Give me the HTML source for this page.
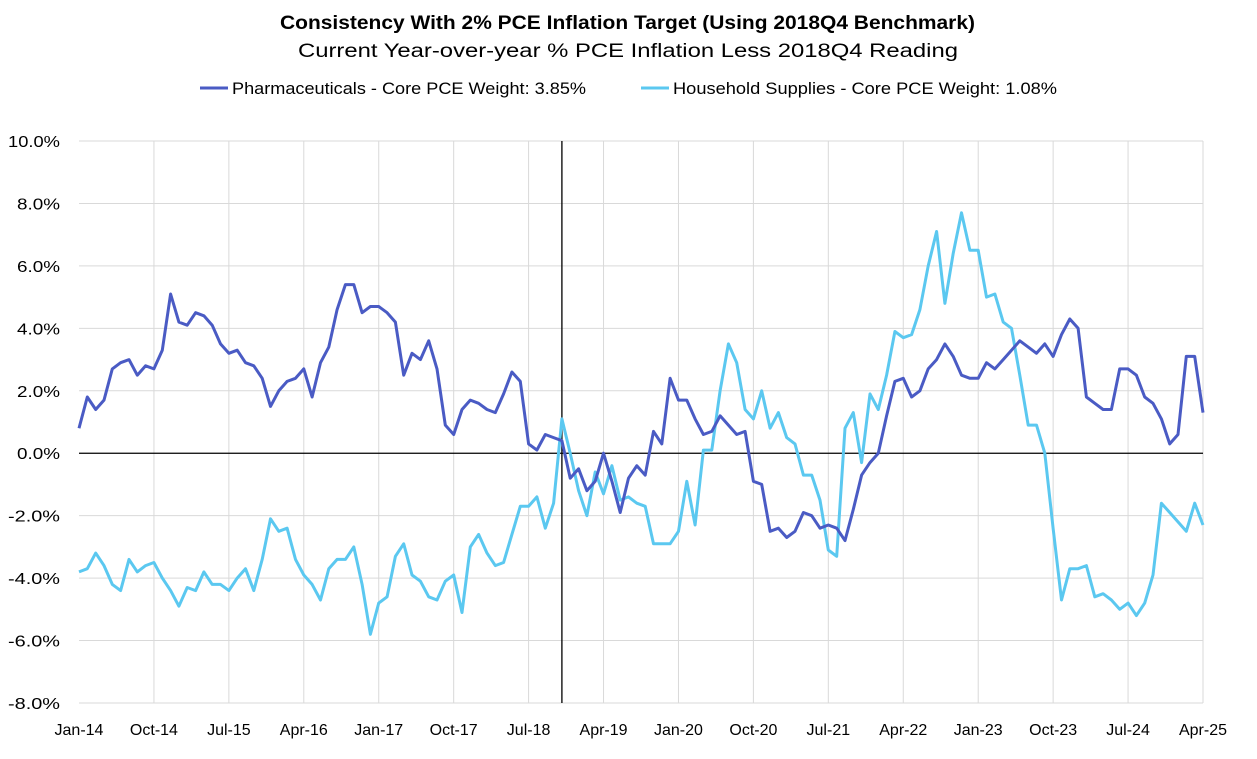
<!DOCTYPE html>
<html><head><meta charset="utf-8"><style>
body{margin:0;background:#fff;}
svg{font-family:"Liberation Sans",sans-serif;}
</style></head><body>
<svg id="chart" width="1257" height="754">
<text x="280" y="29" textLength="695" lengthAdjust="spacingAndGlyphs" font-size="19" font-weight="bold" fill="#000">Consistency With 2% PCE Inflation Target (Using 2018Q4 Benchmark)</text>
<text x="298" y="57" textLength="660" lengthAdjust="spacingAndGlyphs" font-size="19" fill="#000">Current Year-over-year % PCE Inflation Less 2018Q4 Reading</text>
<g>
<g><line x1="200" y1="88" x2="228" y2="88" stroke="#4a5bc4" stroke-width="3"/><text x="232" y="94" textLength="354" lengthAdjust="spacingAndGlyphs" font-size="17">Pharmaceuticals - Core PCE Weight: 3.85%</text></g>
<g><line x1="641" y1="88" x2="669" y2="88" stroke="#5bc8f0" stroke-width="3"/><text x="673" y="94" textLength="384" lengthAdjust="spacingAndGlyphs" font-size="17">Household Supplies - Core PCE Weight: 1.08%</text></g>
</g>
<g id="grid"></g><g id="axes"></g><g id="series"></g>
</svg>
<script>
const xTickLabels=["Jan-14","Oct-14","Jul-15","Apr-16","Jan-17","Oct-17","Jul-18","Apr-19","Jan-20","Oct-20","Jul-21","Apr-22","Jan-23","Oct-23","Jul-24","Apr-25"];
const yTicks=[10,8,6,4,2,0,-2,-4,-6,-8];
const pharma=[0.8,1.8,1.4,1.7,2.7,2.9,3.0,2.5,2.8,2.7,3.3,5.1,4.2,4.1,4.5,4.4,4.1,3.5,3.2,3.3,2.9,2.8,2.4,1.5,2.0,2.3,2.4,2.7,1.8,2.9,3.4,4.6,5.4,5.4,4.5,4.7,4.7,4.5,4.2,2.5,3.2,3.0,3.6,2.7,0.9,0.6,1.4,1.7,1.6,1.4,1.3,1.9,2.6,2.3,0.3,0.1,0.6,0.5,0.4,-0.8,-0.5,-1.2,-0.9,0.0,-0.9,-1.9,-0.8,-0.4,-0.7,0.7,0.3,2.4,1.7,1.7,1.1,0.6,0.7,1.2,0.9,0.6,0.7,-0.9,-1.0,-2.5,-2.4,-2.7,-2.5,-1.9,-2.0,-2.4,-2.3,-2.4,-2.8,-1.8,-0.7,-0.3,0.0,1.2,2.3,2.4,1.8,2.0,2.7,3.0,3.5,3.1,2.5,2.4,2.4,2.9,2.7,3.0,3.3,3.6,3.4,3.2,3.5,3.1,3.8,4.3,4.0,1.8,1.6,1.4,1.4,2.7,2.7,2.5,1.8,1.6,1.1,0.3,0.6,3.1,3.1,1.3];
const household=[-3.8,-3.7,-3.2,-3.6,-4.2,-4.4,-3.4,-3.8,-3.6,-3.5,-4.0,-4.4,-4.9,-4.3,-4.4,-3.8,-4.2,-4.2,-4.4,-4.0,-3.7,-4.4,-3.4,-2.1,-2.5,-2.4,-3.4,-3.9,-4.2,-4.7,-3.7,-3.4,-3.4,-3.0,-4.2,-5.8,-4.8,-4.6,-3.3,-2.9,-3.9,-4.1,-4.6,-4.7,-4.1,-3.9,-5.1,-3.0,-2.6,-3.2,-3.6,-3.5,-2.6,-1.7,-1.7,-1.4,-2.4,-1.6,1.1,0.0,-1.2,-2.0,-0.6,-1.3,-0.4,-1.5,-1.4,-1.6,-1.7,-2.9,-2.9,-2.9,-2.5,-0.9,-2.3,0.1,0.1,2.0,3.5,2.9,1.4,1.1,2.0,0.8,1.3,0.5,0.3,-0.7,-0.7,-1.5,-3.1,-3.3,0.8,1.3,-0.3,1.9,1.4,2.5,3.9,3.7,3.8,4.6,6.0,7.1,4.8,6.4,7.7,6.5,6.5,5.0,5.1,4.2,4.0,2.5,0.9,0.9,0.0,-2.4,-4.7,-3.7,-3.7,-3.6,-4.6,-4.5,-4.7,-5.0,-4.8,-5.2,-4.8,-3.9,-1.6,-1.9,-2.2,-2.5,-1.6,-2.3];
const benchmarkIndex=58;
const X0=79,X1=1203,Y0=141,Y1=703,NM=135,ticksEvery=9;
const xs=i=>X0+(X1-X0)*i/NM;
const ys=v=>Y0+(10-v)*(Y1-Y0)/18;
const NS="http://www.w3.org/2000/svg";
function mk(tag,attrs,parent){const e=document.createElementNS(NS,tag);for(const k in attrs)e.setAttribute(k,attrs[k]);parent.appendChild(e);return e;}
const grid=document.getElementById('grid'),axes=document.getElementById('axes'),ser=document.getElementById('series');
yTicks.forEach(v=>{
  if(v!==0){const l=mk('line',{x1:X0,x2:X1,y1:ys(v),y2:ys(v),stroke:'#d9d9d9','stroke-width':1},grid);
  
  }
  const lab=v.toFixed(1)+'%';
  const w=lab.length*9.6+(v===10?0:0);
  const t=mk('text',{x:60,y:ys(v)+6,'text-anchor':'end','font-size':16,fill:'#000',textLength:(lab.length===5?52:lab.length===4?43:47),lengthAdjust:'spacingAndGlyphs'},axes);
  t.textContent=lab;
  
  
});
xTickLabels.forEach((lab,k)=>{
  const x=xs(k*ticksEvery);
  if(k>0){const l=mk('line',{x1:x,x2:x,y1:Y0,y2:Y1,stroke:'#d9d9d9','stroke-width':1},grid);
  
  }
  const t=mk('text',{x:x,y:Y1+32,'text-anchor':'middle','font-size':16,fill:'#000'},axes);
  t.textContent=lab;
  
  
});
const z=mk('line',{x1:X0,x2:X1,y1:ys(0),y2:ys(0),stroke:'#000','stroke-width':1.3},axes);


const b=mk('line',{x1:xs(benchmarkIndex),x2:xs(benchmarkIndex),y1:Y0,y2:Y1,stroke:'#000','stroke-width':1.3},axes);


function drawLine(arr,color,name){
  const p=mk('polyline',{points:arr.map((v,i)=>xs(i).toFixed(1)+','+ys(v).toFixed(1)).join(' '),fill:'none',stroke:color,'stroke-width':3,'stroke-linejoin':'round'},ser);
  
  
}
drawLine(household,'#5bc8f0','household-supplies-line');
drawLine(pharma,'#4a5bc4','pharmaceuticals-line');
</script>
</body></html>
